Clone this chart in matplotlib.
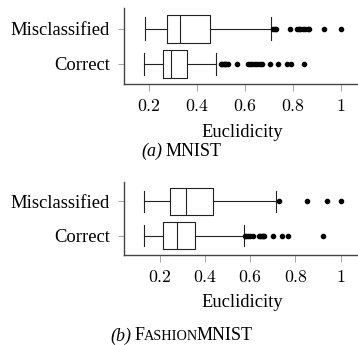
import matplotlib
matplotlib.use('Agg')
import matplotlib.pyplot as plt

plt.rcParams['mathtext.fontset'] = 'cm'
plt.rcParams['font.family'] = ['Liberation Serif', 'DejaVu Serif']

# ---------------- data ----------------
categories = ['Correct', 'Misclassified']
xticks = [0.2, 0.4, 0.6, 0.8, 1.0]
xtick_labels = ['0.2', '0.4', '0.6', '0.8', '1']
x_label = 'Euclidicity'

# stats: whisker low, Q1, median, Q3, whisker high
mnist_correct_stats = [0.178, 0.258, 0.292, 0.357, 0.480]
mnist_correct_outliers = [0.50, 0.505, 0.51, 0.515, 0.52, 0.53, 0.565, 0.61, 0.62,
                          0.63, 0.64, 0.65, 0.66, 0.67, 0.705, 0.735, 0.775, 0.79, 0.845]
mnist_mis_stats = [0.181, 0.2725, 0.329, 0.453, 0.706]
mnist_mis_outliers = [0.715, 0.722, 0.73, 0.785, 0.815, 0.825, 0.83, 0.84, 0.85,
                      0.86, 0.865, 0.93, 1.0]

fashion_correct_stats = [0.127, 0.211, 0.273, 0.357, 0.572]
fashion_correct_outliers = [0.575, 0.58, 0.59, 0.60, 0.61, 0.64, 0.645, 0.65, 0.655,
                            0.66, 0.70, 0.74, 0.765, 0.92]
fashion_mis_stats = [0.129, 0.246, 0.315, 0.435, 0.715]
fashion_mis_outliers = [0.727, 0.85, 0.94, 1.0]

W, H = 358, 345
fig = plt.figure(figsize=(W / 100, H / 100), dpi=100)


def make_stats(s, fl):
    return dict(whislo=s[0], q1=s[1], med=s[2], q3=s[3], whishi=s[4], fliers=fl)


def panel(rect_px, xlim, series, xlabel_y):
    left, top, bottom = rect_px
    ax = fig.add_axes([left / W, 1 - bottom / H, 1 - left / W, (bottom - top) / H])
    lp = dict(color='#222222', linewidth=0.8)
    ax.bxp([make_stats(s, f) for s, f in series], positions=[1, 2],
           orientation='horizontal', widths=0.8, capwidths=0.64,
           boxprops=lp, medianprops=lp, whiskerprops=lp, capprops=lp,
           flierprops=dict(marker='o', markersize=3, markerfacecolor='black',
                           markeredgecolor='black', linestyle='none'))
    ax.set_xlim(*xlim)
    ax.set_ylim(0.42, 2.58)
    ax.set_yticks([1, 2])
    ax.set_yticklabels(categories, fontsize=13.4)
    ax.set_xticks(xticks)
    ax.set_xticklabels(['$' + t + '$' for t in xtick_labels], fontsize=12.8)
    for sp in ['top', 'right']:
        ax.spines[sp].set_visible(False)
    for sp in ['left', 'bottom']:
        ax.spines[sp].set_color('#444444')
        ax.spines[sp].set_linewidth(1.0)
    ax.tick_params(axis='x', length=5, width=0.6, color='#999999', pad=5)
    ax.tick_params(axis='y', length=4, width=0.6, color='#999999', pad=6)
    fig.text(242 / W, 1 - xlabel_y / H, x_label, ha='center', va='center', fontsize=13.3)
    return ax


panel((124, 8.3, 84.3), (0.0946, 1.07),
      [(mnist_correct_stats, mnist_correct_outliers), (mnist_mis_stats, mnist_mis_outliers)],
      132.3)
panel((124, 181.7, 255.3), (0.0404, 1.077),
      [(fashion_correct_stats, fashion_correct_outliers), (fashion_mis_stats, fashion_mis_outliers)],
      302.3)

renderer = fig.canvas.get_renderer()


def caption(pieces, cx, baseline_y):
    texts = []
    widths = []
    for kind in pieces:
        if kind is None:
            texts.append(None)
            widths.append(4.0)
            continue
        s, size, style = kind
        t = fig.text(0, 1 - baseline_y / H, s, fontsize=size, style=style, va='baseline', ha='left')
        texts.append(t)
        widths.append(t.get_window_extent(renderer).width - 0.8)
    total = sum(widths)
    x = cx - total / 2
    for t, w in zip(texts, widths):
        if t is not None:
            t.set_x(x / W)
        x += w


caption([('(a)', 13, 'italic'), None, ('MNIST', 13, 'normal')], 181, 156)
caption([('(b)', 13, 'italic'), None, ('F', 13, 'normal'), ('ASHION', 10.3, 'normal'),
         ('MNIST', 13, 'normal')], 181, 340.5)

fig.savefig('out.png', dpi=100)
